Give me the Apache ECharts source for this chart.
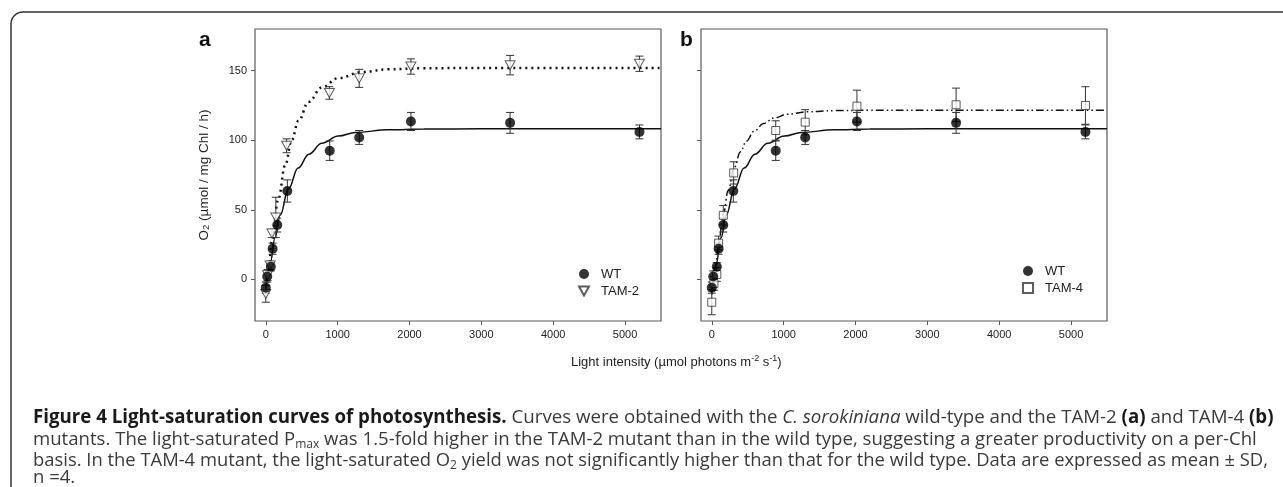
<!DOCTYPE html>
<html>
<head>
<meta charset="utf-8">
<script src="https://cdn.jsdelivr.net/npm/echarts@6/dist/echarts.min.js"></script>
<style>
  html, body { margin: 0; padding: 0; background: #fff; }
  #chart { width: 1283px; height: 487px; }
</style>
</head>
<body>
<div id="chart"></div>
<script>
// measured points (light intensity, O2 evolution, SD)
const lightWT = [0, 20, 70, 95, 160, 300, 890, 1300, 2020, 3400, 5200];
const o2WT = [-6, 2, 9, 22, 39, 63.5, 92.5, 102, 113.5, 112.5, 106];
const sdWT = [4, 4, 3, 4, 5, 8, 7, 5, 6.5, 7.5, 5];

const lightTAM2 = [0, 25, 60, 85, 140, 290, 885, 1300, 2020, 3400, 5200];
const o2TAM2 = [-10.5, 3, 10, 33, 44.5, 96, 134, 144.5, 153, 154, 155];
const sdTAM2 = [6, 4, 3, 3, 14.5, 5, 4.5, 6.5, 5.5, 7, 5.5];

const lightTAM4 = [0, 30, 70, 95, 160, 305, 890, 1300, 2020, 3400, 5200];
const o2TAM4 = [-16.5, -3, 3.5, 26, 46, 76.5, 107, 113, 124.5, 125.5, 125];
const sdTAM4 = [9, 5, 5, 5, 7, 8, 7, 9, 11.5, 12, 13.5];

// fitted curves
const fitWTx = [0, 15, 60, 130, 200, 315, 450, 600, 780, 1010, 1250, 1700, 2200, 3000, 5500];
const fitWTy = [-6, -1.5, 11, 30, 46, 65, 80, 90, 97.8, 103, 105.6, 107.5, 108, 108.2, 108.3];
const fitTAM2x = [0, 40, 85, 175, 270, 360, 455, 595, 780, 1010, 1340, 1700, 2200, 3000, 5500];
const fitTAM2y = [-9, 8, 27, 58, 82, 100, 114, 127.5, 138, 144.7, 149, 151, 151.8, 152, 152];
const fitTAM4x = [0, 50, 100, 160, 230, 310, 400, 480, 590, 720, 870, 1050, 1330, 1700, 2200, 3000, 5500];
const fitTAM4y = [-11, 10, 28, 47, 64, 80, 91.7, 99.3, 106.5, 112, 116, 118.7, 120.5, 121.3, 121.5, 121.5, 121.5];

const xTicks = [0, 1000, 2000, 3000, 4000, 5000];
const yTicks = [0, 50, 100, 150];

const captionLines = [
  '{b|Figure 4 Light-saturation curves of photosynthesis.} Curves were obtained with the {i|C. sorokiniana} wild-type and the TAM-2 {b|(a)} and TAM-4 {b|(b)}',
  'mutants. The light-saturated P{sub|max} was 1.5-fold higher in the TAM-2 mutant than in the wild type, suggesting a greater productivity on a per-Chl',
  'basis. In the TAM-4 mutant, the light-saturated O{sub|2} yield was not significantly higher than that for the wild type. Data are expressed as mean ± SD,',
  'n =4.'
];

const chart = echarts.init(document.getElementById('chart'), null, { renderer: 'canvas' });

const ink = '#222';
const frame = '#5a5a5a';
const font = 'Liberation Sans, Arial, sans-serif';

function pairs(xs, ys) {
  return xs.map((x, i) => [x, ys[i]]);
}
function triples(xs, ys, es) {
  return xs.map((x, i) => [x, ys[i], es[i]]);
}

function errRender(params, api) {
  const x = api.value(0), y = api.value(1), e = api.value(2);
  const top = api.coord([x, y + e]);
  const bot = api.coord([x, y - e]);
  const hw = 4;
  const st = { stroke: '#333', lineWidth: 1 };
  return {
    type: 'group',
    children: [
      { type: 'line', shape: { x1: top[0], y1: top[1], x2: bot[0], y2: bot[1] }, style: st },
      { type: 'line', shape: { x1: top[0] - hw, y1: top[1], x2: top[0] + hw, y2: top[1] }, style: st },
      { type: 'line', shape: { x1: bot[0] - hw, y1: bot[1], x2: bot[0] + hw, y2: bot[1] }, style: st }
    ]
  };
}

function xAxis(idx) {
  return {
    type: 'value', gridIndex: idx, min: -150, max: 5500,
    splitLine: { show: false },
    axisLine: { show: false, onZero: false },
    axisTick: { show: true, length: 4, lineStyle: { color: frame }, customValues: xTicks },
    axisLabel: { color: ink, fontFamily: font, fontSize: 11, margin: 8, customValues: xTicks, formatter: v => String(v) }
  };
}
function yAxis(idx, labels) {
  const ax = {
    type: 'value', gridIndex: idx, min: -30, max: 180,
    splitLine: { show: false },
    axisLine: { show: false, onZero: false },
    axisTick: { show: true, length: 4, lineStyle: { color: frame }, customValues: yTicks },
    axisLabel: { show: labels, color: ink, fontFamily: font, fontSize: 11, margin: 8, customValues: yTicks, formatter: v => String(v) }
  };
  if (labels) {
    ax.name = 'O{sub|2} (µmol / mg Chl / h)';
    ax.nameLocation = 'middle';
    ax.nameGap = 44;
    ax.nameRotate = 90;
    ax.nameTextStyle = {
      color: ink, fontFamily: font, fontSize: 13.5,
      rich: { sub: { fontFamily: font, fontSize: 9.5, color: ink, verticalAlign: 'bottom', lineHeight: 8 } }
    };
  }
  return ax;
}

function fitLine(name, idx, xs, ys, lineType, width) {
  return {
    name: name, type: 'line', xAxisIndex: idx, yAxisIndex: idx,
    data: pairs(xs, ys), smooth: 0.4, smoothMonotone: 'x',
    showSymbol: false, symbol: 'none', silent: true, z: 2,
    lineStyle: { color: '#111', width: width, type: lineType }
  };
}
function errSeries(name, idx, xs, ys, es) {
  return {
    name: name, type: 'custom', xAxisIndex: idx, yAxisIndex: idx,
    data: triples(xs, ys, es), renderItem: errRender, encode: { x: 0, y: 1 }, z: 3, silent: true
  };
}

const markerWT = { symbol: 'circle', symbolSize: 10, itemStyle: { color: '#000' } };
const markerTAM2 = { symbol: 'triangle', symbolRotate: 180, symbolSize: [10, 9], itemStyle: { color: '#fff', borderColor: '#333', borderWidth: 1 } };
const markerTAM4 = { symbol: 'rect', symbolSize: 8, itemStyle: { color: '#fff', borderColor: '#333', borderWidth: 1 } };

function scatter(name, idx, xs, ys, mk) {
  return Object.assign({
    name: name, type: 'scatter', xAxisIndex: idx, yAxisIndex: idx,
    data: pairs(xs, ys), z: 4
  }, mk);
}

const legendBase = {
  orient: 'vertical', itemWidth: 10, itemHeight: 10, itemGap: 3,
  selectedMode: false,
  textStyle: { color: ink, fontFamily: font, fontSize: 13, lineHeight: 14, padding: [0, 0, 0, 7] }
};

function captionTitle(text, top, size) {
  return {
    text: text, left: 28, top: top,
    textStyle: {
      fontFamily: 'Open Sans', fontSize: size, color: '#3a3a3a', fontWeight: 'normal', lineHeight: 22,
      rich: {
        b: { fontFamily: 'Open Sans', fontSize: size, fontWeight: 'bold', color: '#1a1a1a', lineHeight: 22 },
        i: { fontFamily: 'Open Sans', fontSize: size, fontStyle: 'italic', color: '#3a3a3a', lineHeight: 22 },
        sub: { fontFamily: 'Open Sans', fontSize: 12, color: '#3a3a3a', verticalAlign: 'bottom', lineHeight: 12 }
      }
    }
  };
}

const option = {
  backgroundColor: '#fff',
  animation: false,
  grid: [
    { left: 255, top: 29, width: 406, height: 292, show: true, borderColor: frame, borderWidth: 1.2 },
    { left: 701, top: 29, width: 406, height: 292, show: true, borderColor: frame, borderWidth: 1.2 }
  ],
  xAxis: [xAxis(0), xAxis(1)],
  yAxis: [yAxis(0, true), yAxis(1, false)],
  legend: [
    Object.assign({ left: 573, top: 262, data: ['WT', { name: 'TAM-2', icon: 'path://M0,0 L10,0 L5,9 Z' }] }, legendBase),
    Object.assign({ left: 1017, top: 259, data: ['WT', 'TAM-4'] }, legendBase)
  ],
  title: [
    { text: 'a', left: 194, top: 25, textStyle: { fontFamily: font, fontSize: 21, fontWeight: 'bold', color: '#111', lineHeight: 21 } },
    { text: 'b', left: 675, top: 25, textStyle: { fontFamily: font, fontSize: 21, fontWeight: 'bold', color: '#111', lineHeight: 21 } },
    {
      text: 'Light intensity (µmol photons m{sup|-2} s{sup|-1})',
      left: 566, top: 349,
      textStyle: {
        fontFamily: font, fontSize: 13, color: ink, fontWeight: 'normal', lineHeight: 16,
        rich: { sup: { fontFamily: font, fontSize: 9, color: ink, verticalAlign: 'top', lineHeight: 8 } }
      }
    },
    captionTitle(captionLines[0], 402, 18.7),
    captionTitle(captionLines[1], 424, 18.6),
    captionTitle(captionLines[2], 445, 18.4),
    captionTitle(captionLines[3], 462, 18.5)
  ],
  graphic: [
    {
      type: 'rect', silent: true,
      shape: { x: 11, y: 12, width: 1320, height: 520, r: [12, 0, 0, 0] },
      style: { fill: null, stroke: '#333', lineWidth: 1.5 }
    }
  ],
  series: [
    fitLine('fitWTa', 0, fitWTx, fitWTy, 'solid', 1.5),
    fitLine('fitTAM2', 0, fitTAM2x, fitTAM2y, [2, 4], 2.5),
    errSeries('errWTa', 0, lightWT, o2WT, sdWT),
    errSeries('errTAM2', 0, lightTAM2, o2TAM2, sdTAM2),
    scatter('TAM-2', 0, lightTAM2, o2TAM2, markerTAM2),
    scatter('WT', 0, lightWT, o2WT, markerWT),

    fitLine('fitWTb', 1, fitWTx, fitWTy, 'solid', 1.5),
    fitLine('fitTAM4', 1, fitTAM4x, fitTAM4y, [8, 3, 1.5, 3, 1.5, 3], 1.5),
    errSeries('errWTb', 1, lightWT, o2WT, sdWT),
    errSeries('errTAM4', 1, lightTAM4, o2TAM4, sdTAM4),
    scatter('TAM-4', 1, lightTAM4, o2TAM4, markerTAM4),
    scatter('WT', 1, lightWT, o2WT, markerWT)
  ]
};

chart.setOption(option);
</script>
</body>
</html>
